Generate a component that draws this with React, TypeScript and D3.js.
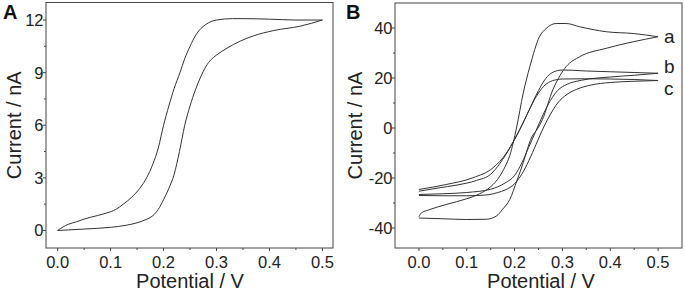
import React from "react";
import * as d3 from "d3";

type P = [number, number];

// Panel A: single CV loop (potential V, current nA)
const aUpper: P[] = [[0,0],[0.01,0.2],[0.02,0.35],[0.036,0.5],[0.05,0.65],[0.075,0.85],[0.093,1.0],[0.11,1.2],[0.124,1.5],[0.14,1.9],[0.155,2.4],[0.168,3.0],[0.18,3.8],[0.19,4.7],[0.2,6.0],[0.21,7.1],[0.22,8.1],[0.231,9.0],[0.24,9.8],[0.25,10.5],[0.26,11.1],[0.27,11.5],[0.28,11.75],[0.29,11.92],[0.3,12.0],[0.33,12.08],[0.35,12.08],[0.4,12.05],[0.45,12.0],[0.5,12.0]];
const aLower: P[] = [[0,0],[0.02,0.03],[0.05,0.08],[0.1,0.18],[0.13,0.3],[0.15,0.44],[0.165,0.6],[0.18,0.85],[0.19,1.2],[0.2,1.75],[0.21,2.4],[0.22,3.2],[0.23,4.5],[0.24,6.0],[0.25,7.1],[0.26,8.0],[0.27,8.75],[0.28,9.35],[0.29,9.75],[0.3,10.0],[0.32,10.4],[0.345,10.8],[0.37,11.1],[0.408,11.4],[0.458,11.65],[0.5,12.0]];

// Panel B: curves a, b, c
const bAUpper: P[] = [[0,-35.5],[0.005,-34],[0.02,-32.8],[0.057,-30.6],[0.1,-28.3],[0.127,-26.3],[0.15,-23.5],[0.169,-19.3],[0.18,-15.5],[0.19,-11],[0.204,0],[0.218,13.9],[0.232,24.6],[0.252,36.5],[0.266,39.8],[0.287,41.8],[0.308,41.8],[0.336,40.5],[0.392,38.5],[0.448,37.8],[0.5,36.5]];
const bALower: P[] = [[0,-36],[0.05,-36.3],[0.1,-36.6],[0.141,-36.5],[0.162,-35.2],[0.175,-32.5],[0.19,-28.6],[0.205,-21],[0.218,-13.9],[0.235,-4],[0.249,0],[0.258,3.3],[0.28,15.3],[0.295,21],[0.308,24.6],[0.336,28.5],[0.392,31.9],[0.448,34.5],[0.5,36.5]];
const bBUpper: P[] = [[0,-25.3],[0.04,-24],[0.08,-22.8],[0.12,-21],[0.15,-18.5],[0.17,-14],[0.19,-8],[0.21,-1],[0.23,7],[0.25,15],[0.265,19.8],[0.28,22.3],[0.3,23.2],[0.32,23.1],[0.35,22.8],[0.4,22.5],[0.45,22.2],[0.5,21.9]];
const bBLower: P[] = [[0,-26.6],[0.05,-26.3],[0.1,-25.8],[0.15,-24.5],[0.18,-22],[0.2,-19],[0.215,-14],[0.23,-7.5],[0.245,-1],[0.26,5.5],[0.275,11],[0.29,15],[0.31,17.5],[0.34,19.1],[0.4,20.4],[0.45,21.1],[0.5,21.9]];
const bCUpper: P[] = [[0,-24.6],[0.057,-22.6],[0.113,-19.9],[0.155,-15.9],[0.183,-10],[0.2,-4.5],[0.215,1],[0.23,7],[0.245,12.5],[0.26,16.5],[0.275,18.6],[0.29,19.4],[0.3,19.6],[0.35,19.7],[0.4,19.6],[0.45,19.4],[0.5,19.0]];
const bCLower: P[] = [[0,-27],[0.05,-27.1],[0.1,-27.1],[0.14,-26.8],[0.165,-25.8],[0.18,-24.8],[0.2,-22.3],[0.215,-18.5],[0.23,-13],[0.245,-6.5],[0.26,0],[0.275,5.5],[0.29,10],[0.31,13.5],[0.33,15.5],[0.36,17.2],[0.4,18.2],[0.45,18.7],[0.5,19.0]];

const xTicks = [0, 0.1, 0.2, 0.3, 0.4, 0.5];
const xMinor = [0.05, 0.15, 0.25, 0.35, 0.45];
const aYTicks = [0, 3, 6, 9, 12];
const aYMinor = [1.5, 4.5, 7.5, 10.5];
const bYTicks = [-40, -20, 0, 20, 40];
const bYMinor = [-30, -10, 10, 30];
const curveLabels = ["a", "b", "c"];
const curveLabelValues = [36.5, 21.9, 19.0];

const FONT = "'Liberation Sans', Arial, sans-serif";
const INK = "#222";
const LINE = "#333";

interface PanelProps {
  left: number; right: number; top: number; bottom: number;
  xDomain: [number, number]; yDomain: [number, number];
  yTicks: number[]; yMinor: number[];
  branches: P[][];
  label: string; labelX: number;
  yTitleX: number; xTitleX: number;
  children?: (x: d3.ScaleLinear<number, number>, y: d3.ScaleLinear<number, number>) => React.ReactNode;
}

function Panel(p: PanelProps) {
  const x = d3.scaleLinear().domain(p.xDomain).range([p.left, p.right]);
  const y = d3.scaleLinear().domain(p.yDomain).range([p.bottom, p.top]);
  const line = d3.line<P>().x(d => x(d[0])).y(d => y(d[1])).curve(d3.curveMonotoneX);
  const cy = (p.top + p.bottom) / 2;
  return (
    <g>
      <text x={p.labelX} y={18.5} fontFamily={FONT} fontWeight="bold" fontSize={20} fill="#111">{p.label}</text>
      {p.branches.map((b, i) => (
        <path key={i} d={line(b) || ""} fill="none" stroke={LINE} strokeWidth={1} />
      ))}
      <rect x={p.left} y={p.top} width={p.right - p.left} height={p.bottom - p.top} fill="none" stroke="#444" strokeWidth={1} />
      {xTicks.map(t => (
        <g key={"x" + t}>
          <line x1={x(t)} x2={x(t)} y1={p.bottom} y2={p.bottom + 3} stroke="#444" />
          <text x={x(t)} y={267.5} textAnchor="middle" fontFamily={FONT} fontSize={16.5} fill={INK}>{t.toFixed(1)}</text>
        </g>
      ))}
      {xMinor.map(t => (
        <line key={"xm" + t} x1={x(t)} x2={x(t)} y1={p.bottom} y2={p.bottom + 2} stroke="#444" />
      ))}
      {p.yTicks.map(t => (
        <g key={"y" + t}>
          <line x1={p.left - 3} x2={p.left} y1={y(t)} y2={y(t)} stroke="#444" />
          <text x={p.left - 2.5} y={y(t)} dy="0.36em" textAnchor="end" fontFamily={FONT} fontSize={16.5} fill={INK}>{String(t)}</text>
        </g>
      ))}
      {p.yMinor.map(t => (
        <line key={"ym" + t} x1={p.left - 2} x2={p.left} y1={y(t)} y2={y(t)} stroke="#444" />
      ))}
      <text x={p.xTitleX} y={287.5} textAnchor="middle" fontFamily={FONT} fontSize={20} fill={INK}>Potential / V</text>
      <text transform={`translate(${p.yTitleX},${cy}) rotate(-90)`} textAnchor="middle" fontFamily={FONT} fontSize={20} fill={INK}>Current / nA</text>
      {p.children ? p.children(x, y) : null}
    </g>
  );
}

export default function App() {
  return (
    <svg width={685} height={292} style={{ position: "absolute", left: 0, top: 0, background: "#fff" }}>
      <rect width={685} height={292} fill="#fff" />
      <Panel left={46} right={333} top={2.5} bottom={248} xDomain={[-0.022, 0.52]} yDomain={[-1, 13]}
        yTicks={aYTicks} yMinor={aYMinor} branches={[aUpper, aLower]} label="A" labelX={3}
        yTitleX={20.5} xTitleX={190} />
      <Panel left={395} right={682} top={3} bottom={248} xDomain={[-0.05, 0.55]} yDomain={[-48, 50]}
        yTicks={bYTicks} yMinor={bYMinor} branches={[bAUpper, bALower, bBUpper, bBLower, bCUpper, bCLower]}
        label="B" labelX={346} yTitleX={362} xTitleX={541}>
        {(x, y) => curveLabels.map((l, i) => (
          <text key={l} x={x(0.5) + 6} y={y(curveLabelValues[i]) + (i === 0 ? 6 : i === 1 ? 0 : 14)}
            fontFamily={FONT} fontSize={19} fill={INK}>{l}</text>
        ))}
      </Panel>
    </svg>
  );
}
